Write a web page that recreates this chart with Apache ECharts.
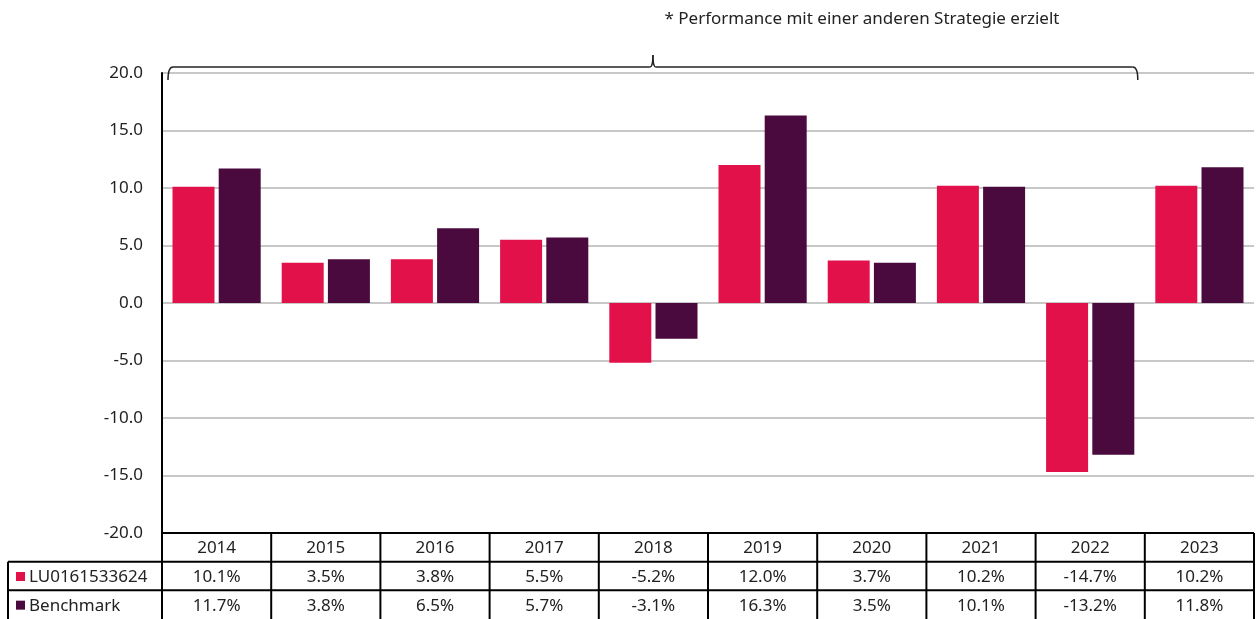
<!DOCTYPE html>
<html>
<head>
<meta charset="utf-8">
<script src="https://cdn.jsdelivr.net/npm/echarts@6/dist/echarts.min.js"></script>
<style>
html,body{margin:0;padding:0;background:#fff;}
#chart{width:1259px;height:619px;}
</style>
</head>
<body>
<div id="chart"></div>
<script>
const years = ['2014','2015','2016','2017','2018','2019','2020','2021','2022','2023'];
const fundName = 'LU0161533624';
const benchName = 'Benchmark';
const fundValues = [10.1, 3.5, 3.8, 5.5, -5.2, 12.0, 3.7, 10.2, -14.7, 10.2];
const benchValues = [11.7, 3.8, 6.5, 5.7, -3.1, 16.3, 3.5, 10.1, -13.2, 11.8];
const noteText = '* Performance mit einer anderen Strategie erzielt';
const braceFrom = 0, braceTo = 8; // brace spans 2014..2022

const RED = '#E2114A';
const PURPLE = '#4A0A3E';
const FONT = '"Noto Sans", "Open Sans", sans-serif';
const FS = 17;

const chart = echarts.init(document.getElementById('chart'));
const gridTop = 73, gridBottom = 86, gridLeft = 162, gridRight = 5;

chart.setOption({
  animation: false,
  textStyle: {fontFamily: FONT},
  grid: {left: gridLeft, right: gridRight, top: gridTop, bottom: gridBottom, containLabel: false},
  xAxis: {
    type: 'category', data: years,
    axisLine: {show: false}, axisTick: {show: false}, axisLabel: {show: false}
  },
  yAxis: {
    type: 'value', min: -20, max: 20, interval: 5,
    axisLine: {show: true, lineStyle: {color: '#000', width: 2}},
    axisTick: {show: false},
    axisLabel: {formatter: v => v.toFixed(1), color: '#222', fontSize: FS, margin: 19, fontFamily: FONT},
    splitLine: {show: true, lineStyle: {color: '#c8c8c8', width: 2}}
  },
  series: [
    {name: fundName, type: 'bar', data: fundValues, barWidth: 42, barGap: '10%', itemStyle: {color: RED}},
    {name: benchName, type: 'bar', data: benchValues, barWidth: 42, barGap: '10%', itemStyle: {color: PURPLE}}
  ]
});

function buildGraphics() {
  const W = chart.getWidth(), H = chart.getHeight();
  const x0 = gridLeft, x1 = W - gridRight;
  const yTop = H - gridBottom;
  const rowH = (H - yTop) / 3;
  const colW = (x1 - x0) / years.length;
  const labelLeft = 8;
  const els = [];
  const lineStyle = {stroke: '#000', lineWidth: 2};
  // horizontal lines
  els.push({type: 'line', shape: {x1: x0, y1: yTop, x2: x1, y2: yTop}, style: lineStyle});
  els.push({type: 'line', shape: {x1: labelLeft, y1: yTop + rowH, x2: x1, y2: yTop + rowH}, style: lineStyle});
  els.push({type: 'line', shape: {x1: labelLeft, y1: yTop + 2 * rowH, x2: x1, y2: yTop + 2 * rowH}, style: lineStyle});
  // vertical lines
  els.push({type: 'line', shape: {x1: labelLeft, y1: yTop + rowH, x2: labelLeft, y2: H}, style: lineStyle});
  for (let i = 0; i <= years.length; i++) {
    const x = x0 + i * colW;
    els.push({type: 'line', shape: {x1: x, y1: yTop, x2: x, y2: H}, style: lineStyle});
  }
  const fmt = v => v.toFixed(1) + '%';
  years.forEach((yr, i) => {
    const cx = chart.convertToPixel({xAxisIndex: 0}, i);
    els.push({type: 'text', x: cx, y: yTop + rowH / 2 + 1, style: {text: yr, font: FS + 'px ' + FONT, fill: '#222', align: 'center', verticalAlign: 'middle'}});
    els.push({type: 'text', x: cx, y: yTop + rowH * 1.5 + 1, style: {text: fmt(fundValues[i]), font: FS + 'px ' + FONT, fill: '#222', align: 'center', verticalAlign: 'middle'}});
    els.push({type: 'text', x: cx, y: yTop + rowH * 2.5 + 1, style: {text: fmt(benchValues[i]), font: FS + 'px ' + FONT, fill: '#222', align: 'center', verticalAlign: 'middle'}});
  });
  // row labels with markers
  [[fundName, RED], [benchName, PURPLE]].forEach((r, k) => {
    const cy = yTop + rowH * (1.5 + k);
    els.push({type: 'rect', shape: {x: 16, y: cy - 4, width: 9, height: 9}, style: {fill: r[1]}});
    els.push({type: 'text', x: 29, y: cy + 1, style: {text: r[0], font: FS + 'px ' + FONT, fill: '#222', align: 'left', verticalAlign: 'middle'}});
  });
  // brace
  const bx0 = x0 + braceFrom * colW + 6;
  const bx1 = x0 + (braceTo + 1) * colW - 7;
  const bm = (bx0 + bx1) / 2;
  const by = gridTop - 6;
  const bs = {stroke: '#222', lineWidth: 1.5, fill: null};
  els.push({type: 'bezierCurve', shape: {x1: bx0, y1: by + 13, cpx1: bx0, cpy1: by, x2: bx0 + 5, y2: by}, style: bs});
  els.push({type: 'line', shape: {x1: bx0 + 5, y1: by, x2: bm - 3, y2: by}, style: bs});
  els.push({type: 'bezierCurve', shape: {x1: bm - 3, y1: by, cpx1: bm, cpy1: by, x2: bm, y2: by - 12}, style: bs});
  els.push({type: 'bezierCurve', shape: {x1: bm + 3, y1: by, cpx1: bm, cpy1: by, x2: bm, y2: by - 12}, style: bs});
  els.push({type: 'line', shape: {x1: bm + 3, y1: by, x2: bx1 - 5, y2: by}, style: bs});
  els.push({type: 'bezierCurve', shape: {x1: bx1, y1: by + 13, cpx1: bx1, cpy1: by, x2: bx1 - 5, y2: by}, style: bs});
  els.push({type: 'text', x: 862, y: 19, style: {text: noteText, font: FS + 'px ' + FONT, fill: '#222', align: 'center', verticalAlign: 'middle'}});
  chart.setOption({graphic: {elements: els}});
}
buildGraphics();
</script>
</body>
</html>
